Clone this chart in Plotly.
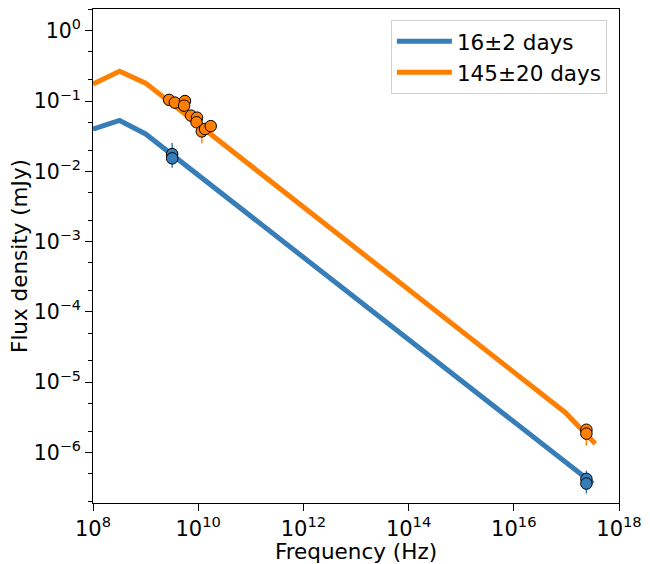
import plotly.graph_objects as go

# Model lines
line_nu = [1e8, 3.2e8, 1e9, 1e10, 1e12, 1e14, 1e16, 1e17, 3.2e17]
blue_line = [0.040, 0.053, 0.034, 0.00885, 6.0e-4, 4.06e-5, 2.75e-6, 7.15e-7, 3.6e-7]
orange_nu = [1e8, 3.2e8, 1e9, 1e10, 1e12, 1e14, 1e16, 9.5e16, 3.55e17]
orange_line = [0.175, 0.265, 0.18, 0.0465, 0.0031, 2.07e-4, 1.38e-5, 3.7e-6, 1.33e-6]

# Observations, 16 days
blue_nu = [3.2e9, 3.2e9, 2.4e17, 2.4e17]
blue_flux = [0.0176, 0.0153, 4.2e-7, 3.6e-7]
blue_err_up = [0.0077, 0.002, 1.3e-7, 0.3e-7]
blue_err_dn = [0.003, 0.0041, 0.3e-7, 1.0e-7]

# Observations, 145 days
orange_nu_obs = [2.8e9, 3.6e9, 5.6e9, 5.4e9, 7.3e9, 9.5e9, 9.3e9, 1.17e10, 1.35e10, 1.73e10, 2.4e17, 2.4e17]
orange_flux = [0.104, 0.095, 0.100, 0.086, 0.062, 0.058, 0.050, 0.037, 0.040, 0.044, 2.1e-6, 1.85e-6]
orange_err_up = [0.005, 0.005, 0.006, 0.005, 0.004, 0.004, 0.004, 0.004, 0.003, 0.003, 0.2e-6, 0.2e-6]
orange_err_dn = [0.005, 0.005, 0.006, 0.005, 0.004, 0.004, 0.004, 0.012, 0.003, 0.003, 0.2e-6, 0.6e-6]

labels = ["16±2 days", "145±20 days"]
BLUE = "#377eb8"
ORANGE = "#ff7f00"
FONT = "DejaVu Sans"

fig = go.Figure()
fig.add_trace(go.Scatter(x=line_nu, y=blue_line, mode="lines", name=labels[0],
                         line=dict(color=BLUE, width=5)))
fig.add_trace(go.Scatter(x=orange_nu, y=orange_line, mode="lines", name=labels[1],
                         line=dict(color=ORANGE, width=5)))
fig.add_trace(go.Scatter(x=blue_nu, y=blue_flux, mode="markers", showlegend=False,
                         marker=dict(color=BLUE, size=11.5, line=dict(color="black", width=1)),
                         error_y=dict(type="data", array=blue_err_up, arrayminus=blue_err_dn,
                                      color=BLUE, thickness=1.5, width=0)))
fig.add_trace(go.Scatter(x=orange_nu_obs, y=orange_flux, mode="markers", showlegend=False,
                         marker=dict(color=ORANGE, size=11.5, line=dict(color="black", width=1)),
                         error_y=dict(type="data", array=orange_err_up, arrayminus=orange_err_dn,
                                      color=ORANGE, thickness=1.5, width=0)))

xt = [1e8, 1e10, 1e12, 1e14, 1e16, 1e18]
xtt = ["10<sup>8</sup>", "10<sup>10</sup>", "10<sup>12</sup>", "10<sup>14</sup>", "10<sup>16</sup>", "10<sup>18</sup>"]
yt = [1, 1e-1, 1e-2, 1e-3, 1e-4, 1e-5, 1e-6]
ytt = ["10<sup>0</sup>", "10<sup>−1</sup>", "10<sup>−2</sup>", "10<sup>−3</sup>", "10<sup>−4</sup>", "10<sup>−5</sup>", "10<sup>−6</sup>"]

fig.update_layout(
    width=650, height=564,
    margin=dict(l=93, r=26, t=8, b=61),
    paper_bgcolor="white", plot_bgcolor="white",
    font=dict(family=FONT, size=20, color="black"),
    showlegend=True,
    legend=dict(x=0.977, y=0.978, xanchor="right", yanchor="top",
                bgcolor="rgba(255,255,255,0.8)", bordercolor="#d0d0d0", borderwidth=1,
                font=dict(size=21.5), itemwidth=55, tracegroupgap=0),
    xaxis=dict(type="log", range=[8, 18], tickvals=xt, ticktext=xtt,
               showline=True, mirror=True, linecolor="black", linewidth=1,
               ticks="outside", ticklen=7, tickcolor="black", showgrid=False, zeroline=False,
               title=dict(text="Frequency (Hz)", font=dict(size=21.5), standoff=0),
               tickfont=dict(size=21)),
    yaxis=dict(type="log", range=[-6.72, 0.31], tickvals=yt, ticktext=ytt,
               showline=True, mirror=True, linecolor="black", linewidth=1,
               ticks="outside", ticklen=7, tickcolor="black", showgrid=False, zeroline=False,
               title=dict(text="Flux density (mJy)", font=dict(size=21.5), standoff=0),
               tickfont=dict(size=20.5),
               minor=dict(ticks="outside", ticklen=4, tickcolor="black", showgrid=False)),
)

fig.write_html("out.html")
